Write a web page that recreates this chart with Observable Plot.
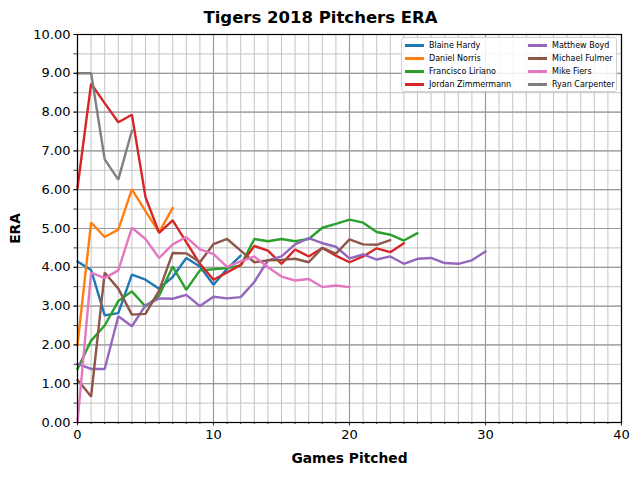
<!DOCTYPE html>
<html>
<head>
<meta charset="utf-8">
<script src="https://cdn.jsdelivr.net/npm/d3@7"></script>
<script src="https://cdn.jsdelivr.net/npm/@observablehq/plot@0.6"></script>
<style>
  html, body { margin: 0; padding: 0; background: #fff; }
  #wrap { position: relative; width: 640px; height: 480px; font-family: "DejaVu Sans", sans-serif; }
  #legend { position: absolute; left: 401px; top: 37px; width: 216px; height: 55px; box-sizing: border-box;
    background: rgba(255,255,255,0.85); border: 1px solid #d0d0d0; border-radius: 3px;
    display: grid; grid-template-rows: repeat(4, 13px); grid-auto-flow: column; grid-template-columns: 123px 90px;
    padding: 1px 0 0 3px; font-size: 8px; color: #000; }
  .item { display: flex; align-items: center; white-space: nowrap; }
  .swatch { width: 19px; height: 2.5px; margin-right: 5px; flex: none; }
</style>
</head>
<body>
<div id="wrap"><div id="chart"></div><div id="legend"></div></div>
<script>
const pitchers = ["Blaine Hardy", "Daniel Norris", "Francisco Liriano", "Jordan Zimmermann",
                  "Matthew Boyd", "Michael Fulmer", "Mike Fiers", "Ryan Carpenter"];
const colors = ["#1f77b4", "#ff7f0e", "#2ca02c", "#d62728", "#9467bd", "#8c564b", "#e377c2", "#7f7f7f"];

const hardy = [4.15, 3.93, 2.76, 2.82, 3.81, 3.68, 3.45, 3.75, 4.24, 4.02, 3.55, 3.96, 4.30];
const norris = [2.00, 5.15, 4.78, 4.97, 6.01, 5.45, 4.90, 5.53];
const liriano = [1.38, 2.11, 2.50, 3.13, 3.38, 2.99, 3.27, 4.02, 3.42, 3.92, 3.95, 3.98, 4.05, 4.73, 4.67, 4.73, 4.67, 4.73, 5.02, 5.12, 5.23, 5.15, 4.91, 4.84, 4.69, 4.88];
const zimmermann = [6.05, 8.73, 8.23, 7.74, 7.93, 5.81, 4.89, 5.21, 4.65, 4.09, 3.68, 3.87, 4.06, 4.55, 4.43, 4.09, 4.46, 4.28, 4.50, 4.30, 4.13, 4.28, 4.49, 4.39, 4.62];
const boyd = [1.51, 1.38, 1.38, 2.74, 2.48, 3.02, 3.20, 3.19, 3.29, 3.00, 3.24, 3.20, 3.23, 3.62, 4.18, 4.28, 4.59, 4.75, 4.62, 4.53, 4.23, 4.33, 4.20, 4.28, 4.09, 4.22, 4.24, 4.11, 4.09, 4.18, 4.41];
const fulmer = [1.10, 0.67, 3.86, 3.45, 2.78, 2.80, 3.40, 4.37, 4.36, 4.13, 4.60, 4.73, 4.43, 4.13, 4.18, 4.19, 4.22, 4.13, 4.50, 4.35, 4.72, 4.59, 4.58, 4.70];
const fiers = [0.00, 3.86, 3.72, 3.92, 5.02, 4.73, 4.24, 4.59, 4.78, 4.46, 4.34, 4.01, 4.15, 4.28, 4.00, 3.76, 3.66, 3.70, 3.49, 3.53, 3.49];
const carpenter = [9.00, 9.00, 6.78, 6.26, 7.52];

const seriesValues = [hardy, norris, liriano, zimmermann, boyd, fulmer, fiers, carpenter];
const xMajorTicks = [0, 10, 20, 30, 40];
const xMinorTicks = d3.range(0, 41, 1);
const yMajorTicks = d3.range(0, 10.01, 1);
const yMinorTicks = d3.range(0, 10.01, 0.5);

const data = [];
pitchers.forEach((name, i) => seriesValues[i].forEach((era, g) => data.push({name, game: g, era})));

const chart = Plot.plot({
  width: 640,
  height: 480,
  marginLeft: 77,
  marginRight: 19,
  marginTop: 34,
  marginBottom: 58,
  style: {fontFamily: "DejaVu Sans, sans-serif", fontSize: "13px", color: "#000", background: "#fff"},
  x: {domain: [0, 40]},
  y: {domain: [0, 10]},
  color: {domain: pitchers, range: colors},
  marks: [
    Plot.ruleX(xMinorTicks, {stroke: "#c4c4c4", strokeWidth: 1}),
    Plot.ruleY(yMinorTicks, {stroke: "#c4c4c4", strokeWidth: 1}),
    Plot.ruleX(xMajorTicks, {stroke: "#999", strokeWidth: 1.2}),
    Plot.ruleY(yMajorTicks, {stroke: "#999", strokeWidth: 1.2}),
    Plot.line(data, {x: "game", y: "era", z: "name", stroke: "name", strokeWidth: 2.4, strokeLinejoin: "miter"}),
    Plot.frame({stroke: "#000", strokeWidth: 1.2}),
    Plot.axisX(xMinorTicks, {tickSize: 2, text: null, label: null, strokeWidth: 0.8}),
    Plot.axisX(xMajorTicks, {tickSize: 3.5, tickPadding: 3.5, label: null, tickFormat: d3.format("d"), fontSize: 13, strokeWidth: 0.8}),
    Plot.axisY(yMinorTicks, {tickSize: 3.5, text: null, label: null, strokeWidth: 0.8}),
    Plot.axisY(yMajorTicks, {tickSize: 3.5, tickPadding: 3.5, label: null, tickFormat: d3.format(".2f"), fontSize: 13, strokeWidth: 0.8}),
    Plot.text(["Tigers 2018 Pitchers ERA"], {frameAnchor: "top-left", dx: 243, dy: -17, textAnchor: "middle", lineAnchor: "middle", fontWeight: "bold", fontSize: 16.5}),
    Plot.text(["Games Pitched"], {frameAnchor: "bottom", dy: 36, lineAnchor: "middle", fontWeight: "bold", fontSize: 13.8}),
    Plot.text(["ERA"], {frameAnchor: "left", dx: -62, rotate: -90, lineAnchor: "middle", textAnchor: "middle", fontWeight: "bold", fontSize: 13.8})
  ]
});
document.getElementById("chart").appendChild(chart);

const legend = document.getElementById("legend");
pitchers.forEach((name, i) => {
  const item = document.createElement("div");
  item.className = "item";
  const sw = document.createElement("span");
  sw.className = "swatch";
  sw.style.background = colors[i];
  const label = document.createElement("span");
  label.textContent = name;
  item.appendChild(sw);
  item.appendChild(label);
  legend.appendChild(item);
});
</script>
</body>
</html>
